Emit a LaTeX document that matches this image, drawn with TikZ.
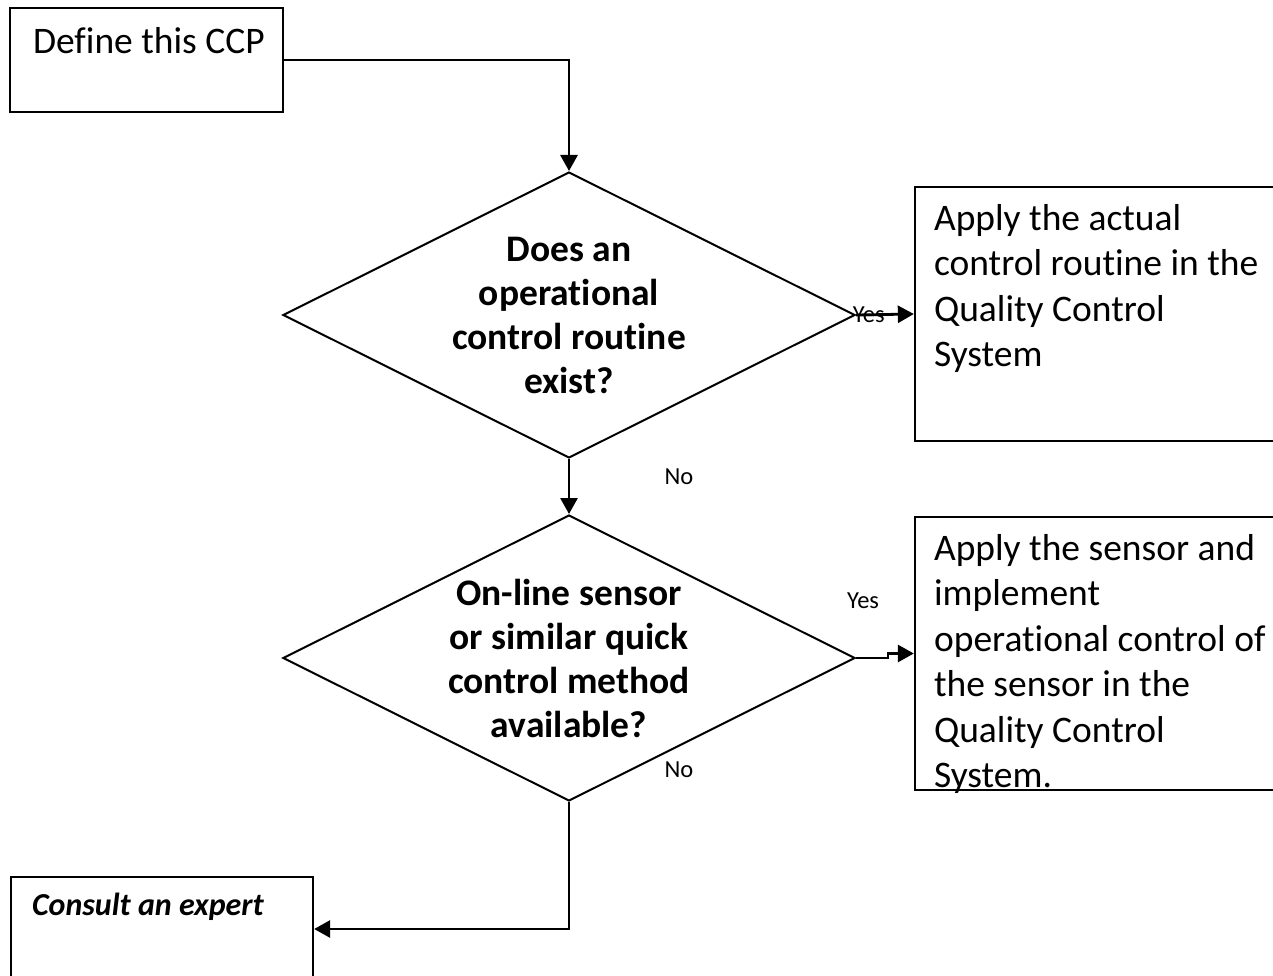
\documentclass[tikz,border=0pt]{standalone}
\usepackage{fontspec}
\setmainfont{Carlito}[Ligatures=NoCommon]
\usetikzlibrary{shapes.geometric,arrows.meta,positioning}
\tikzset{
  box/.style={draw, line width=2.3pt, rectangle, inner sep=0pt},
  decision/.style={draw, line width=2pt, diamond, inner sep=0pt, minimum width=572pt, minimum height=286pt},
  boxtxt/.style={inner sep=0pt, align=left, font=\fontsize{37.5}{45.5}\selectfont},
  qtxt/.style={inner sep=0pt, align=center, font=\fontsize{37.5}{44}\selectfont\bfseries},
  lbl/.style={inner sep=0pt, font=\fontsize{24.5}{28}\selectfont},
  conn/.style={line width=2.8pt, -{Triangle[length=16pt,width=17pt]}}
}
\begin{document}
\begin{tikzpicture}[x=1pt,y=-1pt]
\useasboundingbox (0,0) rectangle (1273,976); % edit here for the page size
\clip (0,0) rectangle (1273,976);
% boxes
\node[box, minimum width=273pt, minimum height=104pt] (ccp) at (146.5,60) {};
\node[box, minimum width=375pt, minimum height=254pt] (act) at (1102.5,314) {};
\node[box, minimum width=375pt, minimum height=273pt] (sens) at (1102.5,653.5) {};
\node[box, minimum width=302pt, minimum height=104pt] (exp) at (162,929) {};
% questions
\node[decision] (q1) at (569,315) {};
\node[decision] (q2) at (569,658) {};
% texts
\node[boxtxt, anchor=base west] (ccptxt) at ([shift={(24,47)}]ccp.north west) {Define this CCP};
\node[boxtxt, anchor=north west] (acttxt) at ([shift={(20,18)}]act.north west) {Apply the actual\\control routine in the\\Quality Control\\System};
\node[boxtxt, anchor=north west] (senstxt) at ([shift={(20,18)}]sens.north west) {Apply the sensor and\\implement\\operational control of\\the sensor in the\\Quality Control\\System.};
\node[boxtxt, font=\fontsize{32}{38}\selectfont\bfseries\itshape, anchor=base west] (exptxt) at ([shift={(22,40)}]exp.north west) {Consult an expert};
\node[qtxt] (q1txt) at (q1) {Does an\\operational\\control routine\\exist?};
\node[qtxt] (q2txt) at (q2) {On-line sensor\\or similar quick\\control method\\available?};
% connectors
\draw[conn] (ccp.east) -| (q1.north);
\draw[conn] (q1.east) -- node[lbl, pos=0.22]{Yes} (act.west);
\draw[conn] (q1.south) -- node[lbl, pos=0.33, xshift=110pt]{No} (q2.north);
\draw[conn] (q2.east) -- node[lbl, pos=0.22, yshift=57pt]{Yes} ++(32,0) |- (sens.west); % edit here for the jog
\draw[conn] (q2.south) node[lbl, xshift=110pt, yshift=32pt]{No} |- (exp.east);
\end{tikzpicture}
\end{document}
